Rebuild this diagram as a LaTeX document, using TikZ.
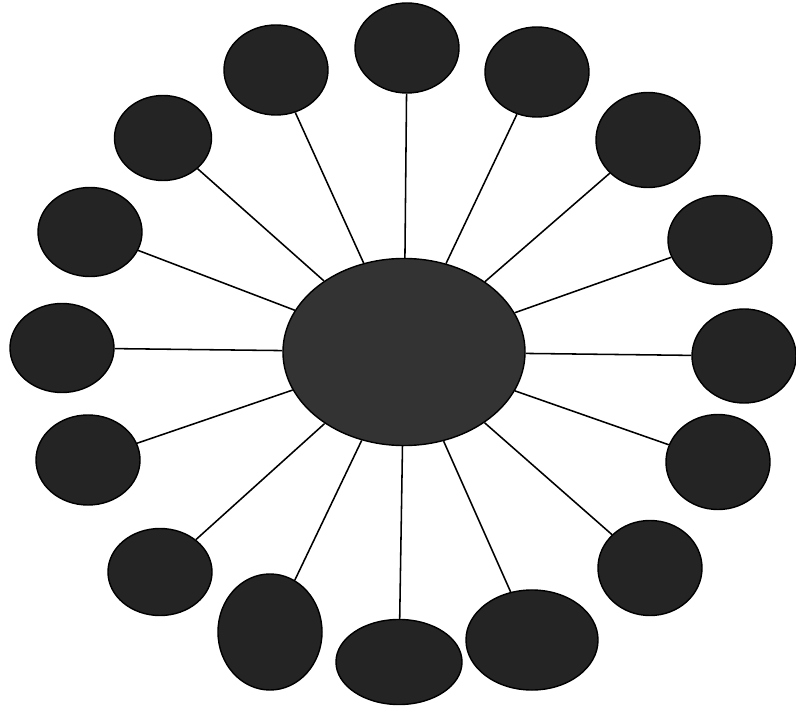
\documentclass[tikz,border=0pt]{standalone}
\usepackage{tikz}
\usetikzlibrary{shapes.geometric}

\begin{document}
\begin{tikzpicture}[
        x=0.025cm, y=-0.025cm,
        hub/.style={ellipse, draw, line width=1pt, fill=black!80, inner sep=0pt, minimum width=6.05cm, minimum height=4.675cm},
        sat/.style={ellipse, draw, line width=1pt, fill=black!86, inner sep=0pt, minimum width=2.6cm, minimum height=2.25cm},
        spoke/.style={line width=1.1pt},
    ]
        \useasboundingbox (0,0) rectangle (796,708);

        \node[hub] (hub) at (404,352) {};

        % ring of satellites, clockwise from the top
        \node[sat] (s1) at (407,48) {};
        \node[sat] (s2) at (537,72) {};
        \node[sat, minimum height=2.375cm] (s3) at (648,140) {};
        \node[sat, minimum height=2.225cm] (s4) at (720,240) {};
        \node[sat, minimum height=2.35cm] (s5) at (744,356) {};
        \node[sat, minimum height=2.375cm] (s6) at (718,462) {};
        \node[sat, minimum height=2.375cm] (s7) at (650,568) {};
        \node[sat, minimum width=3.3cm, minimum height=2.5cm] (s8) at (532,640) {};
        \node[sat, minimum width=3.15cm, minimum height=2.125cm] (s9) at (399,662) {};
        \node[sat, minimum height=2.9cm] (s10) at (270,632) {};
        \node[sat, minimum height=2.175cm] (s11) at (160,572) {};
        \node[sat] (s12) at (88,460) {};
        \node[sat, minimum height=2.225cm] (s13) at (62,348) {};
        \node[sat, minimum height=2.225cm] (s14) at (90,232) {};
        \node[sat, minimum width=2.425cm, minimum height=2.125cm] (s15) at (163,138) {};
        \node[sat] (s16) at (276,70) {};

        \foreach \s in {s1,s2,s3,s4,s5,s6,s7,s8,s9,s10,s11,s12,s13,s14,s15,s16}
            \draw[spoke] (hub) -- (\s);
    \end{tikzpicture}
\end{document}
